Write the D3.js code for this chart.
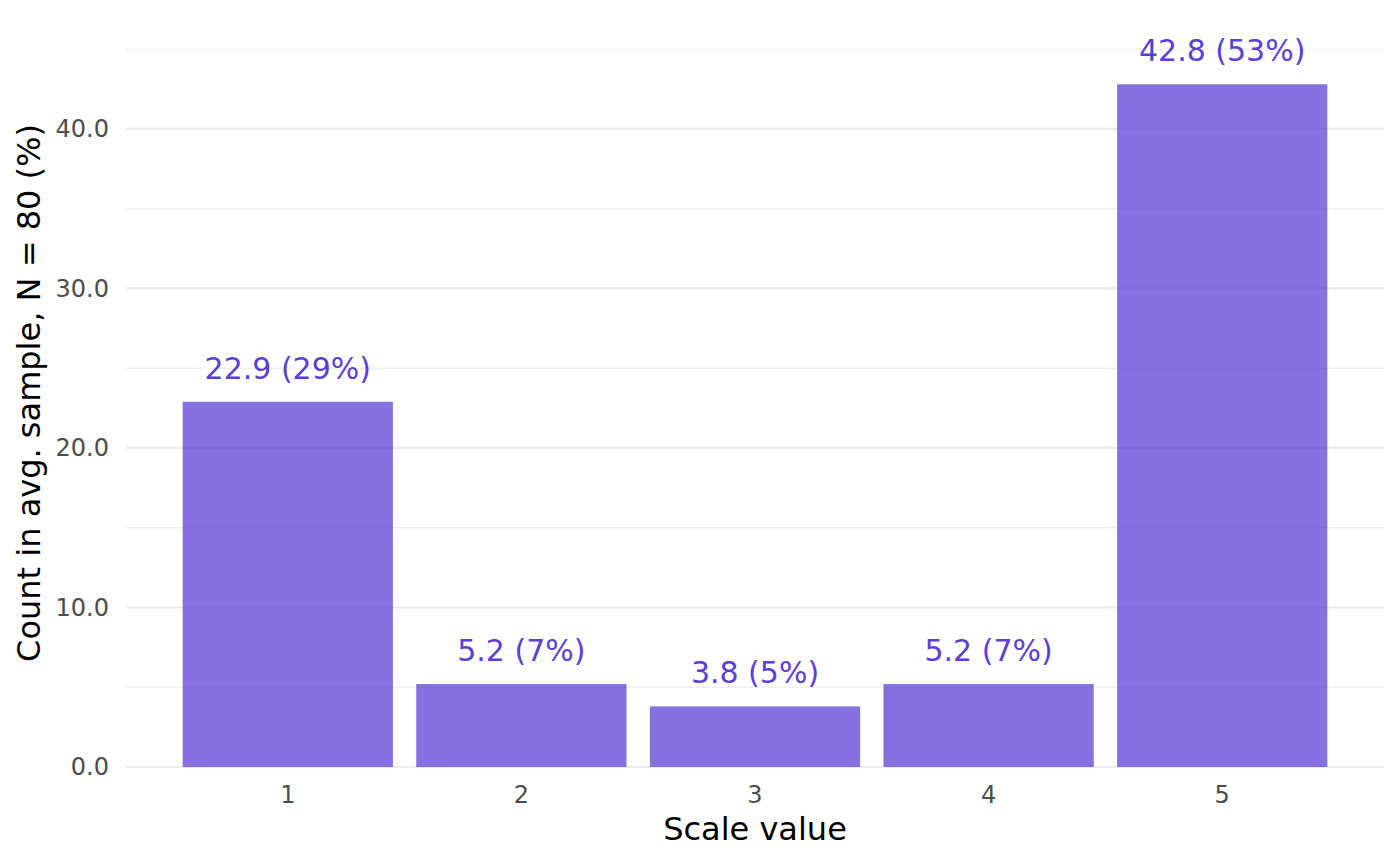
<!DOCTYPE html>
<html>
<head>
<meta charset="utf-8">
<script src="https://cdn.jsdelivr.net/npm/d3@7"></script>
<style>
  body { margin:0; background:#fff; }
  text { font-family: "DejaVu Sans", sans-serif; }
</style>
</head>
<body>
<div class="canvas"></div>
<script>
// DATA
const categories = ["1", "2", "3", "4", "5"];
const counts = [22.9, 5.2, 3.8, 5.2, 42.8];
const percents = [29, 7, 5, 7, 53];
const majorTicks = [0, 10, 20, 30, 40];
const minorTicks = [5, 15, 25, 35, 45];

const data = categories.map((c, i) => ({cat: c, value: counts[i], pct: percents[i]}));

// Dimensions
const W = 1400, H = 865;
const panel = {left: 126, right: 1384, top: 20, bottom: 767};

const svg = d3.select(".canvas")
  .append("svg")
  .attr("width", W)
  .attr("height", H);

// SCALES
const xScale = d3.scaleBand()
  .domain(categories)
  .range([panel.left, panel.right])
  .paddingInner(0.1)
  .paddingOuter(0.2425);

const yScale = d3.scaleLinear()
  .domain([0, 46.83])
  .range([panel.bottom, panel.top]);

// GRID
svg.append("g").selectAll("line")
  .data(minorTicks)
  .enter().append("line")
  .attr("x1", panel.left).attr("x2", panel.right)
  .attr("y1", d => yScale(d)).attr("y2", d => yScale(d))
  .attr("stroke", "#ebebeb").attr("stroke-width", 1.1);

svg.append("g").selectAll("line")
  .data(majorTicks)
  .enter().append("line")
  .attr("x1", panel.left).attr("x2", panel.right)
  .attr("y1", d => yScale(d)).attr("y2", d => yScale(d))
  .attr("stroke", "#ebebeb").attr("stroke-width", 2.2);

// AXES (ticks only, no lines)
const yAxis = svg.append("g")
  .attr("transform", `translate(${panel.left},0)`)
  .call(d3.axisLeft(yScale).tickValues(majorTicks).tickFormat(d3.format(".1f")).tickSize(0).tickPadding(17));
yAxis.select(".domain").remove();
yAxis.selectAll("text")
  .attr("fill", "#4d4d4d")
  .style("font-size", "24px")
  .style("font-family", "DejaVu Sans");

const xAxis = svg.append("g")
  .attr("transform", `translate(0,${panel.bottom})`)
  .call(d3.axisBottom(xScale).tickSize(0).tickPadding(19));
xAxis.select(".domain").remove();
xAxis.selectAll("text")
  .attr("fill", "#4d4d4d")
  .style("font-size", "24px")
  .style("font-family", "DejaVu Sans");

// BARS
svg.append("g").selectAll("rect")
  .data(data)
  .enter().append("rect")
  .attr("x", d => xScale(d.cat))
  .attr("y", d => yScale(d.value))
  .attr("width", xScale.bandwidth())
  .attr("height", d => yScale(0) - yScale(d.value))
  .attr("fill", "#5a3fd5")
  .attr("fill-opacity", 0.74);

// LABELS
svg.append("g").selectAll("text")
  .data(data)
  .enter().append("text")
  .attr("x", d => xScale(d.cat) + xScale.bandwidth() / 2)
  .attr("y", d => yScale(d.value) - 23)
  .attr("text-anchor", "middle")
  .attr("fill", "#5a3fd5")
  .style("font-size", "30px")
  .text(d => `${d.value.toFixed(1)} (${d.pct}%)`);

// AXIS TITLES
svg.append("text")
  .attr("x", (panel.left + panel.right) / 2)
  .attr("y", 840)
  .attr("text-anchor", "middle")
  .attr("fill", "#000")
  .style("font-size", "32px")
  .text("Scale value");

svg.append("text")
  .attr("transform", `translate(40,393) rotate(-90)`)
  .attr("text-anchor", "middle")
  .attr("fill", "#000")
  .style("font-size", "32px")
  .text("Count in avg. sample, N = 80 (%)");
</script>
</body>
</html>
